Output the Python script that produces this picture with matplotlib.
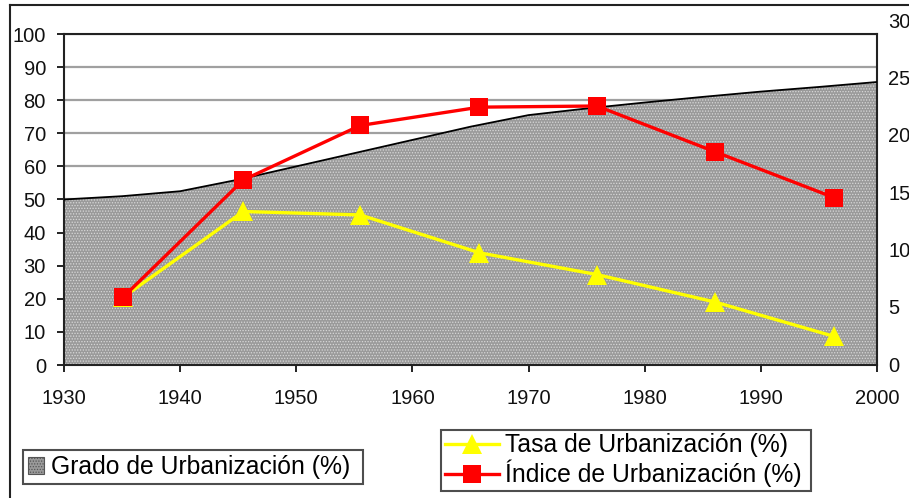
import matplotlib
matplotlib.use("Agg")
import matplotlib.pyplot as plt
from matplotlib.lines import Line2D
from matplotlib.patches import Patch

plt.rcParams['font.family'] = ['Liberation Sans', 'DejaVu Sans']
plt.rcParams['hatch.linewidth'] = 0.6

# Grado de Urbanización (%) - left axis (area)
area_years = [1930, 1935, 1940, 1945, 1950, 1955, 1960, 1965, 1970, 1975, 1980, 1985, 1990, 1995, 2000]
grado = [50, 51, 52.5, 56, 60, 64, 68, 72, 75.5, 77.5, 79.3, 81, 82.6, 84, 85.5]

# Lines - right axis
line_years = [1935.06, 1945.44, 1955.5, 1965.77, 1975.88, 1986.07, 1996.33]
tasa = [5.8, 13.3, 13.0, 9.7, 7.8, 5.4, 2.4]
indice = [5.8, 16.05, 20.8, 22.4, 22.5, 18.5, 14.5]

left_ticks = [0, 10, 20, 30, 40, 50, 60, 70, 80, 90, 100]
right_ticks = [0, 5, 10, 15, 20, 25, 30]
x_ticks = [1930, 1940, 1950, 1960, 1970, 1980, 1990, 2000]

W, H = 909, 498
fig = plt.figure(figsize=(W / 100, H / 100), dpi=100)

def fx(px):
    return px / W

def fy(py):
    return 1 - py / H

# main axes
L, R, T, B = 64, 877, 34, 365
ax = fig.add_axes([fx(L), fy(B), fx(R) - fx(L), fy(T) - fy(B)])
ax.set_xlim(1930, 2000)
ax.set_ylim(0, 100)
ax.set_yticks(left_ticks)
ax.set_xticks(x_ticks)
ax.yaxis.grid(True, color='#a0a0a0', linewidth=1.6, zorder=0)
ax.set_axisbelow(True)
ax.fill_between(area_years, grado, 0, facecolor='#9a9a9a', edgecolor='#d8d8d8',
                hatch='......', linewidth=0, zorder=2)
ax.plot(area_years, grado, color='black', linewidth=1.3, zorder=3)
for s in ax.spines.values():
    s.set_color('#222222')
    s.set_linewidth(1.5)
ax.tick_params(axis='y', direction='out', length=5, width=1.3, pad=8, labelsize=14.5, colors='#111111')
ax.tick_params(axis='x', direction='out', length=5, width=1.3, pad=12, labelsize=14.5, colors='#111111')

# right axis (separate, taller)
ax2 = fig.add_axes([fx(L), fy(364), fx(R) - fx(L), fy(20) - fy(364)])
ax2.set_xlim(1930, 2000)
ax2.set_ylim(0, 30)
ax2.patch.set_visible(False)
for s in ax2.spines.values():
    s.set_visible(False)
ax2.set_xticks([])
ax2.yaxis.tick_right()
ax2.set_yticks(right_ticks)
ax2.tick_params(axis='y', length=0, pad=8, labelsize=14.5, colors='#111111')
ax2.plot(line_years, tasa, color='#ffff00', linewidth=2.4, marker='^', markersize=14,
         markeredgewidth=0, zorder=4, clip_on=False)
ax2.plot(line_years, indice, color='#ff0000', linewidth=2.4, marker='s', markersize=13.5,
         markeredgewidth=0, zorder=5, clip_on=False)

# legend 1 (area)
h1 = [Patch(facecolor='#9a9a9a', edgecolor='#555555', hatch='......', linewidth=0.8)]
leg1 = fig.legend(h1, ['Grado de Urbanización (%)'], loc='lower left',
                  bbox_to_anchor=(fx(23), fy(484), fx(363) - fx(23), fy(439) - fy(484)),
                  mode='expand', fontsize=17.8, frameon=True, fancybox=False,
                  edgecolor='#222222', handlelength=0.65, handleheight=0.65,
                  handletextpad=0.3, borderpad=0.2, borderaxespad=0)
leg1.get_frame().set_linewidth(1.5)

# legend 2 (lines)
h2 = [Line2D([], [], color='#ffff00', linewidth=2.4, marker='^', markersize=14, markeredgewidth=0),
      Line2D([], [], color='#ff0000', linewidth=2.4, marker='s', markersize=13.5, markeredgewidth=0)]
leg2 = fig.legend(h2, ['Tasa de Urbanización (%)', 'Índice de Urbanización (%)'], loc='lower left',
                  bbox_to_anchor=(fx(441), fy(491), fx(811) - fx(441), fy(412) - fy(491)),
                  mode='expand', fontsize=17.8, frameon=True, fancybox=False,
                  edgecolor='#222222', handlelength=2.2, handletextpad=0.25,
                  borderpad=0.15, labelspacing=0.1, borderaxespad=0)
leg2.get_frame().set_linewidth(1.5)

# outer frame (left and top edges)
fig.add_artist(Line2D([fx(10), fx(10)], [fy(5), 0], color='#222222', linewidth=1.5))
fig.add_artist(Line2D([fx(10), 1], [fy(5), fy(5)], color='#222222', linewidth=1.5))

fig.savefig('out.png', dpi=100)
